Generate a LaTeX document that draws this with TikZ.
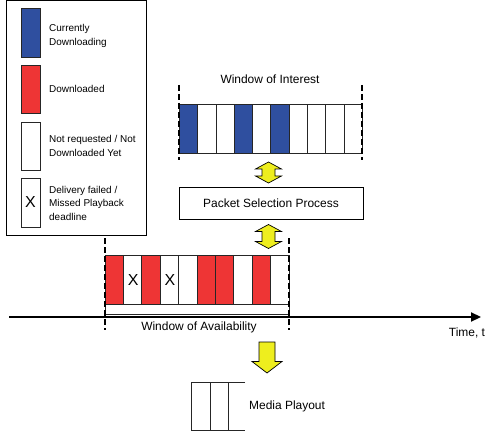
\documentclass[tikz,border=0pt]{standalone}
\usepackage{fontspec}
\setmainfont{Liberation Sans}
\usetikzlibrary{arrows.meta}
\definecolor{dlblue}{HTML}{2F4F9F}
\definecolor{dlred}{HTML}{EE3535}
\definecolor{ylw}{HTML}{EEEE1E}
\tikzset{
  cell/.style={draw=black!85, line width=0.8bp},
  wdash/.style={line width=2.3bp, dash pattern=on 6bp off 3bp},
  yarrow/.style={draw=black, line width=0.7bp, fill=ylw, line join=miter},
  lbl/.style={font=\fontsize{12}{14}\selectfont, inner sep=0pt},
  leg/.style={font=\fontsize{10}{13.5}\selectfont, inner sep=0pt, align=left, anchor=west},
  xmark/.style={font=\fontsize{16}{16}\selectfont, inner sep=0pt}
}
\begin{document}
\begin{tikzpicture}[x=1bp,y=-1bp]
\useasboundingbox (0,0) rectangle (487,437);
\fill[white] (0,0) rectangle (487,437);

% legend
\draw[line width=0.9bp] (6,0.8) rectangle (146,235);
\draw[cell, fill=dlblue] (21,8) rectangle (40,57);
\draw[cell, fill=dlred] (21,65) rectangle (40,113);
\draw[cell, fill=white] (21,122) rectangle (40,170);
\draw[cell, fill=white] (21,178) rectangle (40,227);
\node[xmark] (legx) at (30.5,202.5) {X};
\node[leg] (leg1) at (49,36) {Currently\\Downloading};
\node[leg] (leg2) at (49,89) {Downloaded};
\node[leg] (leg3) at (49,146) {Not requested / Not\\Downloaded Yet};
\node[leg] (leg4) at (49,203) {Delivery failed /\\Missed Playback\\deadline};

% window of interest
\node[lbl] (woi) at (270,79) {Window of Interest};
\foreach \c [count=\i from 0] in {dlblue,white,white,dlblue,white,dlblue,white,white,white,white}
  \draw[cell, fill=\c] (179.3+\i*18.3,104) rectangle ++(18.3,49);
\draw[wdash] (179.3,85) -- (179.3,160);
\draw[wdash] (362.3,85) -- (362.3,160);

% double arrow 1
\begin{scope}[shift={(268.5,172.5)}]
\draw[yarrow] (0,-10.5) -- (13,-3.5) -- (6.5,-3.5) -- (6.5,3.5) -- (13,3.5) -- (0,10.5)
  -- (-13,3.5) -- (-6.5,3.5) -- (-6.5,-3.5) -- (-13,-3.5) -- cycle;
\end{scope}

% packet selection process
\node[draw, line width=0.8bp, minimum width=184bp, minimum height=32bp, lbl] (psp) at (271,203) {Packet Selection Process};

% double arrow 2
\begin{scope}[shift={(268.5,236.5)}]
\draw[yarrow] (0,-12) -- (13,-5) -- (6.5,-5) -- (6.5,5) -- (13,5) -- (0,12)
  -- (-13,5) -- (-6.5,5) -- (-6.5,-5) -- (-13,-5) -- cycle;
\end{scope}

% window of availability
\draw[cell] (105,255) rectangle (289,314);
\foreach \c [count=\i from 0] in {dlred,white,dlred,white,white,dlred,dlred,white,dlred,white}
  \draw[cell, fill=\c] (105+\i*18.4,255) rectangle ++(18.4,49);
\node[xmark] (x1) at (133.2,280) {X};
\node[xmark] (x2) at (170,280) {X};
\draw[wdash] (105,238) -- (105,330);
\draw[wdash] (289,238) -- (289,330);
\node[lbl] (woa) at (199,327.5) {Window of Availability};

% time axis
\coordinate (t0) at (9,317);
\coordinate (t1) at (481,317);
\draw[line width=2.2bp, -{Triangle[length=10bp,width=9bp]}] (t0) -- (t1);
\node[lbl] (time) at (467,333) {Time, t};

% down arrow
\begin{scope}[shift={(267,342)}]
\draw[yarrow] (-8,0) -- (8,0) -- (8,19.5) -- (15,19.5) -- (0,31) -- (-15,19.5) -- (-8,19.5) -- cycle;
\end{scope}

% media playout
\draw[cell] (245,382) -- (191.7,382) -- (191.7,430) -- (245,430);
\draw[cell] (210,382) -- (210,430);
\draw[cell] (228.3,382) -- (228.3,430);
\node[lbl, anchor=west] (mp) at (249,406) {Media Playout};
\end{tikzpicture}
\end{document}
